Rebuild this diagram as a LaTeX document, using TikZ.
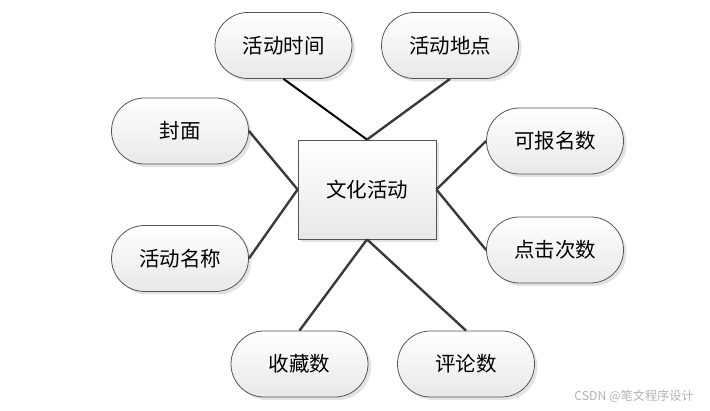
\documentclass[tikz,border=0pt]{standalone}
\usepackage{fontspec}
\newfontfamily\cjk{Noto Sans CJK SC}
\usetikzlibrary{shadows}
\definecolor{linec}{HTML}{3A3A3A}
\definecolor{edgec}{HTML}{555555}
\begin{document}
\begin{tikzpicture}[x=1pt,y=-1pt,
  attr/.style={draw=edgec, line width=0.8pt, rounded corners=33pt, minimum width=137pt, minimum height=66pt,
    top color=white, bottom color=black!9, inner sep=0pt,
    drop shadow={shadow xshift=3pt, shadow yshift=-3pt, fill=black!18, opacity=0.6},
    font=\cjk\fontsize{20.5}{24}\selectfont},
  ent/.style={draw=edgec, line width=0.8pt, minimum width=138pt, minimum height=99pt,
    top color=white, bottom color=black!9, inner sep=0pt,
    drop shadow={shadow xshift=3pt, shadow yshift=-3pt, fill=black!18, opacity=0.6},
    font=\cjk\fontsize{20.5}{24}\selectfont},
  conn/.style={draw=linec, line width=2.4pt}
]
\useasboundingbox (0,0) rectangle (710,411);
\node[ent] (c) at (367,189.5) {文化活动};
\node[attr] (t) at (283.5,45.5) {活动时间};
\node[attr] (p) at (450,45.5) {活动地点};
\node[attr] (f) at (180,131) {封面};
\node[attr] (n) at (180,258.5) {活动名称};
\node[attr] (k) at (555,141) {可报名数};
\node[attr] (d) at (555,250) {点击次数};
\node[attr] (s) at (299.5,364) {收藏数};
\node[attr] (r) at (466,364) {评论数};
\draw[conn, draw=black, line width=2pt] (t.south) -- (c.north);
\draw[conn] (p.south) -- (c.north);
\draw[conn] (f.east) -- (c.west);
\draw[conn] (n.east) -- (c.west);
\draw[conn] (k.west) -- (c.east);
\draw[conn] (d.west) -- (c.east);
\draw[conn] (s.north) -- (c.south);
\draw[conn] (r.north) -- (c.south);
\node[text=black!30, font=\cjk\fontsize{12.2}{14}\selectfont, anchor=east, inner sep=0pt] (wm) at (694,396) {CSDN @笔文程序设计};
\end{tikzpicture}
\end{document}
